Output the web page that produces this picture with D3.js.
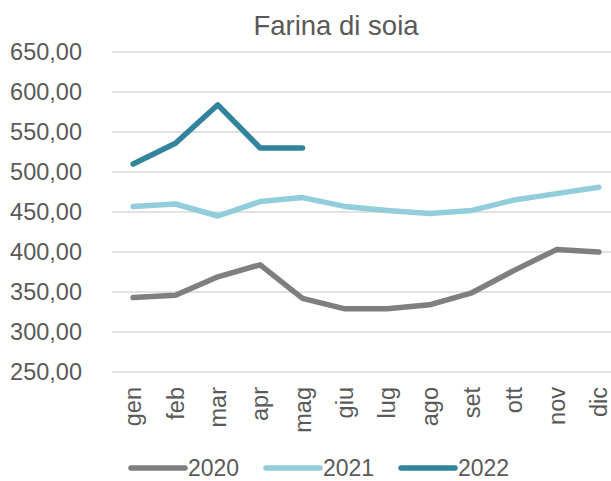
<!DOCTYPE html>
<html><head><meta charset="utf-8">
<script src="https://cdn.jsdelivr.net/npm/d3@7"></script>
<style>body{margin:0;background:#fff}svg{display:block}text{font-family:"Liberation Sans",Arial,sans-serif;fill:#595959}</style>
</head><body><svg id="c" width="611" height="481"></svg>
<script>
const months = ["gen","feb","mar","apr","mag","giu","lug","ago","set","ott","nov","dic"];
const s2020 = [343,346,369,384,342,329,329,334,349,377,403,400];
const s2021 = [457,460,445,463,468,457,452,448,452,465,473,481];
const s2022 = [510,536,584,530,530];
const yTicks = [250,300,350,400,450,500,550,600,650];
const seriesNames = ["2020","2021","2022"];
const colors = ["#7f7f7f","#92cddc","#31849b"];
const seriesData = [s2020, s2021, s2022];

const svg = d3.select("#c");
const x = d3.scalePoint().domain(months).range([112, 620]).padding(0.5);
const y = d3.scaleLinear().domain([250,650]).range([372, 52]);

svg.append("text").attr("x",336).attr("y",35).attr("text-anchor","middle")
  .style("font-size","27.5px").text("Farina di soia");

const g = svg.append("g");
g.selectAll("line.grid").data(yTicks).enter().append("line")
  .attr("x1",112).attr("x2",620).attr("y1",d=>y(d)).attr("y2",d=>y(d))
  .attr("stroke","#d9d9d9").attr("stroke-width",1.5);
g.selectAll("text.yl").data(yTicks).enter().append("text")
  .attr("x",82).attr("y",d=>y(d)).attr("dy","0.36em").attr("text-anchor","end")
  .style("font-size","23.5px").text(d=>d3.format(".2f")(d).replace(".",","));

g.selectAll("text.xl").data(months).enter().append("text")
  .attr("transform",d=>`translate(${x(d)},387) rotate(-90)`)
  .attr("text-anchor","end").attr("dy","0.35em")
  .style("font-size","23.5px").text(d=>d);

const line = d3.line().x((d,i)=>x(months[i])).y(d=>y(d));
seriesData.forEach((s,k)=>{
  svg.append("path").datum(s).attr("d",line).attr("fill","none")
    .attr("stroke",colors[k]).attr("stroke-width",5.5).attr("stroke-linecap","round").attr("stroke-linejoin","round");
});

const lx = [131, 266, 401];
seriesNames.forEach((n,k)=>{
  svg.append("line").attr("x1",lx[k]).attr("x2",lx[k]+54).attr("y1",468).attr("y2",468)
    .attr("stroke",colors[k]).attr("stroke-width",5.5).attr("stroke-linecap","round");
  svg.append("text").attr("x",lx[k]+57).attr("y",468).attr("dy","0.36em")
    .style("font-size","23px").text(n);
});
</script></body></html>
